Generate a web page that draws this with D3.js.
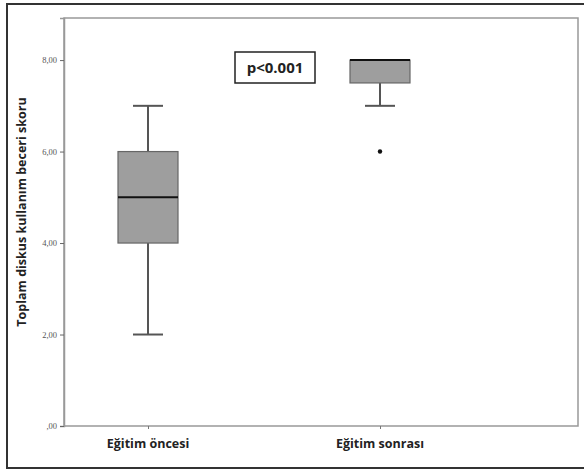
<!DOCTYPE html>
<html>
<head>
<meta charset="utf-8">
<script src="https://cdn.jsdelivr.net/npm/d3@7"></script>
<style>
  body { margin: 0; background: #fff; }
  svg { display: block; }
</style>
</head>
<body>
<div id="chart"></div>
<script>
// groups and their box summaries
const groups = ["Eğitim öncesi", "Eğitim sonrası"];
const mins = [2, 7];
const q1s = [4, 7.5];
const medians = [5, 8];
const q3s = [6, 8];
const maxs = [7, 8];
const outliers = [[], [6]];
const yTicks = [0, 2, 4, 6, 8];
const pLabel = "p<0.001";
const yTitle = "Toplam diskus kullanım beceri skoru";

const width = 584, height = 471;
const plot = { left: 64, right: 578, top: 18, bottom: 426 };

const svg = d3.select("#chart").append("svg")
  .attr("width", width)
  .attr("height", height);

// outer frame
svg.append("rect")
  .attr("x", 7).attr("y", 4)
  .attr("width", 590).attr("height", 464)
  .attr("fill", "none")
  .attr("stroke", "#333")
  .attr("stroke-width", 2);

const y = d3.scaleLinear().domain([0, 8.92]).range([plot.bottom, plot.top]);
const x = d3.scalePoint().domain(groups).range([148, 380]);

// plot frame
svg.append("rect")
  .attr("x", plot.left).attr("y", plot.top)
  .attr("width", plot.right - plot.left).attr("height", plot.bottom - plot.top)
  .attr("fill", "none")
  .attr("stroke", "#999")
  .attr("stroke-width", 1.5);

const fmt = v => v === 0 ? ",00" : v.toFixed(2).replace(".", ",");

const yAxis = svg.append("g")
  .attr("transform", `translate(${plot.left},0)`)
  .call(d3.axisLeft(y).tickValues(yTicks).tickSize(4).tickFormat(fmt));
yAxis.select(".domain").attr("stroke", "#999").attr("stroke-width", 1.5);
yAxis.selectAll(".tick line").attr("stroke", "#666");
yAxis.selectAll(".tick text")
  .attr("font-family", "Liberation Serif, serif")
  .attr("font-size", 8.5)
  .attr("fill", "#555");

const xAxis = svg.append("g")
  .attr("transform", `translate(0,${plot.bottom})`)
  .call(d3.axisBottom(x).tickSize(3).tickFormat(""));
xAxis.select(".domain").remove();
xAxis.selectAll(".tick line").attr("stroke", "#777");

// category labels
svg.selectAll(".cat")
  .data(groups)
  .enter().append("text")
  .attr("x", d => x(d))
  .attr("y", 448)
  .attr("text-anchor", "middle")
  .attr("font-family", "Open Sans, sans-serif")
  .attr("font-weight", "bold")
  .attr("font-size", 12.5)
  .attr("fill", "#222")
  .text(d => d);

// y title
svg.append("text")
  .attr("transform", `translate(26,${212}) rotate(-90)`)
  .attr("text-anchor", "middle")
  .attr("font-family", "Open Sans, sans-serif")
  .attr("font-weight", "bold")
  .attr("font-size", 12.5)
  .attr("fill", "#222")
  .text(yTitle);

const boxW = 60, capW = 30;
const boxes = svg.selectAll(".box")
  .data(groups.map((g, i) => ({ g, i })))
  .enter().append("g");

// whiskers
boxes.append("line")
  .attr("x1", d => x(d.g)).attr("x2", d => x(d.g))
  .attr("y1", d => y(maxs[d.i])).attr("y2", d => y(q3s[d.i]))
  .attr("stroke", "#555").attr("stroke-width", 2);
boxes.append("line")
  .attr("x1", d => x(d.g)).attr("x2", d => x(d.g))
  .attr("y1", d => y(q1s[d.i])).attr("y2", d => y(mins[d.i]))
  .attr("stroke", "#555").attr("stroke-width", 2);
boxes.append("line")
  .attr("x1", d => x(d.g) - capW / 2).attr("x2", d => x(d.g) + capW / 2)
  .attr("y1", d => y(maxs[d.i])).attr("y2", d => y(maxs[d.i]))
  .attr("stroke", "#555").attr("stroke-width", 2);
boxes.append("line")
  .attr("x1", d => x(d.g) - capW / 2).attr("x2", d => x(d.g) + capW / 2)
  .attr("y1", d => y(mins[d.i])).attr("y2", d => y(mins[d.i]))
  .attr("stroke", "#555").attr("stroke-width", 2);

// box
boxes.append("rect")
  .attr("x", d => x(d.g) - boxW / 2)
  .attr("y", d => y(q3s[d.i]))
  .attr("width", boxW)
  .attr("height", d => y(q1s[d.i]) - y(q3s[d.i]))
  .attr("fill", "#9e9e9e")
  .attr("stroke", "#666")
  .attr("stroke-width", 1.2);

// median
boxes.append("line")
  .attr("x1", d => x(d.g) - boxW / 2).attr("x2", d => x(d.g) + boxW / 2)
  .attr("y1", d => y(medians[d.i])).attr("y2", d => y(medians[d.i]))
  .attr("stroke", "#111").attr("stroke-width", 2);

// outliers
boxes.selectAll(".out")
  .data(d => outliers[d.i].map(v => ({ g: d.g, v })))
  .enter().append("circle")
  .attr("cx", d => x(d.g))
  .attr("cy", d => y(d.v))
  .attr("r", 2.2)
  .attr("fill", "#111");

// p-value box
const pg = svg.append("g");
pg.append("rect")
  .attr("x", 235).attr("y", 52)
  .attr("width", 80).attr("height", 31)
  .attr("fill", "#fff")
  .attr("stroke", "#222")
  .attr("stroke-width", 1.5);
pg.append("text")
  .attr("x", 275).attr("y", 73)
  .attr("text-anchor", "middle")
  .attr("font-family", "Open Sans, sans-serif")
  .attr("font-weight", "bold")
  .attr("font-size", 15)
  .attr("fill", "#222")
  .text(pLabel);
</script>
</body>
</html>
